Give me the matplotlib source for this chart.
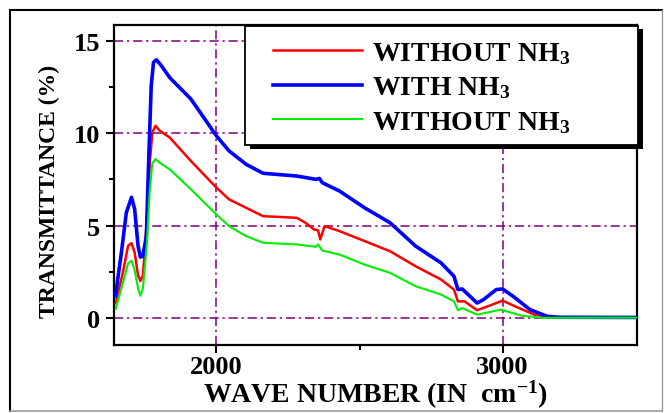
import matplotlib
matplotlib.use('Agg')
import matplotlib.pyplot as plt
from matplotlib.patches import Rectangle
from matplotlib.lines import Line2D
from matplotlib.ticker import MultipleLocator

plt.rcParams['font.family'] = 'Liberation Serif'
plt.rcParams['font.weight'] = 'bold'
plt.rcParams['axes.labelweight'] = 'bold'
plt.rcParams['mathtext.fontset'] = 'custom'
plt.rcParams['mathtext.rm'] = 'Liberation Serif:bold'
plt.rcParams['mathtext.bf'] = 'Liberation Serif:bold'
plt.rcParams['mathtext.default'] = 'rm'

wn_blue = [1647, 1668, 1685, 1703, 1714, 1726, 1734, 1743, 1755, 1764, 1772, 1780, 1790, 1808,
           1837, 1911, 2000, 2044, 2104, 2163, 2281, 2348, 2360, 2370, 2430, 2518, 2607,
           2696, 2785, 2830, 2844, 2859, 2911, 2933, 2978, 3000, 3037, 3096, 3156, 3200, 3467]
t_blue = [1.2, 3.57, 5.7, 6.53, 5.9, 3.9, 3.3, 3.35, 4.45, 8.96, 12.56, 13.83, 13.97, 13.64,
          13.0, 11.84, 9.85, 9.04, 8.31, 7.83, 7.68, 7.5, 7.55, 7.32, 6.87, 5.96, 5.15,
          3.89, 2.98, 2.26, 1.54, 1.57, 0.81, 0.99, 1.54, 1.57, 1.17, 0.45, 0.09, 0.04, 0.03]

wn_red = [1648, 1673, 1691, 1703, 1714, 1726, 1734, 1743, 1757, 1767, 1776, 1787, 1802,
          1837, 1911, 2000, 2044, 2104, 2163, 2281, 2311, 2341, 2355, 2363, 2370, 2378, 2430,
          2518, 2607, 2696, 2785, 2830, 2844, 2867, 2911, 2960, 3000, 3044, 3111, 3170, 3467]
t_red = [0.8, 2.47, 3.9, 4.05, 3.55, 2.3, 2.0, 2.3, 5.35, 8.4, 10.04, 10.4, 10.13,
         9.76, 8.49, 7.05, 6.42, 5.96, 5.51, 5.42, 5.15, 4.79, 4.75, 4.25, 4.6, 4.97, 4.7,
         4.16, 3.61, 2.8, 2.08, 1.54, 0.9, 0.9, 0.42, 0.7, 0.94, 0.63, 0.18, 0.04, 0.03]

wn_green = [1648, 1673, 1691, 1703, 1714, 1726, 1734, 1743, 1757, 1767, 1776, 1787, 1802,
            1837, 1911, 2000, 2044, 2104, 2163, 2281, 2348, 2355, 2370, 2430, 2518, 2607,
            2696, 2785, 2830, 2844, 2859, 2911, 2993, 3066, 3141, 3467]
t_green = [0.5, 1.9, 2.95, 3.1, 2.6, 1.6, 1.2, 1.6, 4.05, 6.93, 8.37, 8.6, 8.4,
           8.04, 6.96, 5.6, 4.97, 4.43, 4.07, 3.98, 3.85, 3.98, 3.65, 3.43, 2.89, 2.44,
           1.72, 1.27, 0.9, 0.42, 0.54, 0.18, 0.45, 0.13, 0.01, 0.02]

labels = [r'WITHOUT NH$_{3}$', r'WITH NH$_{3}$', r'WITHOUT NH$_{3}$']
grid_color = '#800080'
widths = [1.8, 2.6, 1.5]

fig = plt.figure(figsize=(6.65, 4.14), dpi=100)
ax = fig.add_axes([0.1719, 0.1643, 0.7865, 0.7737])

l1, = ax.plot(wn_red, t_red, color='#ff0000', lw=widths[0], zorder=3)
l2, = ax.plot(wn_blue, t_blue, color='#0000ff', lw=widths[1], zorder=3)
l3, = ax.plot(wn_green, t_green, color='#00ee00', lw=widths[2], zorder=3)

for y in [0, 5, 10, 15]:
    ax.axhline(y, color=grid_color, lw=1.1, dashes=(6, 2.5, 1.5, 2.5), zorder=1)
for x in [2000, 3000]:
    ax.axvline(x, color=grid_color, lw=1.1, dashes=(6, 2.5, 1.5, 2.5), zorder=1)

ax.set_xlim(1643, 3471)
ax.set_ylim(-1.46, 15.87)
ax.xaxis.set_major_locator(MultipleLocator(1000))
ax.xaxis.set_minor_locator(MultipleLocator(500))
ax.yaxis.set_major_locator(MultipleLocator(5))
ax.yaxis.set_minor_locator(MultipleLocator(2.5))
ax.tick_params(which='major', direction='out', length=6, width=1.5, labelsize=19)
ax.tick_params(axis='x', which='major', pad=1)
ax.tick_params(axis='y', which='major', pad=4)
ax.tick_params(which='minor', direction='out', length=3.5, width=1.5)
for s in ax.spines.values():
    s.set_linewidth(1.6)

ax.set_xlabel(r'WAVE NUMBER (IN  cm$^{-1}$)', fontsize=20, labelpad=0)
ax.set_ylabel('TRANSMITTANCE (%)', fontsize=17)
ax.yaxis.set_label_coords(-0.104, 0.481)

# legend box with solid offset shadow
x0, y0, w, h = 0.25, 0.624, 0.751, 0.372
ax.add_patch(Rectangle((x0 + 0.009, y0 - 0.011), w, h, transform=ax.transAxes,
                       facecolor='black', edgecolor='none', zorder=4, clip_on=False))
ax.add_patch(Rectangle((x0, y0), w, h, transform=ax.transAxes,
                       facecolor='white', edgecolor='black', lw=1.3, zorder=4, clip_on=False))
leg = ax.legend([l1, l2, l3], labels, loc='upper left', bbox_to_anchor=(0.303, 0.953),
                frameon=False, fontsize=20, handlelength=3.2, handletextpad=0.36,
                labelspacing=0.32, borderaxespad=0, borderpad=0)
leg.set_zorder(5)
for hl, lw in zip(leg.get_lines(), widths):
    hl.set_linewidth(lw)

# outer figure frame
fig.add_artist(Line2D([9.5 / 665, 9.5 / 665], [1 - 11 / 414, 1 - 412 / 414], color='black', lw=1.5))
fig.add_artist(Line2D([9.5 / 665, 662 / 665], [1 - 11 / 414, 1 - 11 / 414], color='black', lw=1.5))
fig.add_artist(Line2D([9.5 / 665, 662 / 665], [1 - 412 / 414, 1 - 412 / 414], color='#999999', lw=1.2))
fig.add_artist(Line2D([662 / 665, 662 / 665], [1 - 11 / 414, 1 - 412 / 414], color='#999999', lw=1.0))

fig.savefig('out.png', dpi=100)
